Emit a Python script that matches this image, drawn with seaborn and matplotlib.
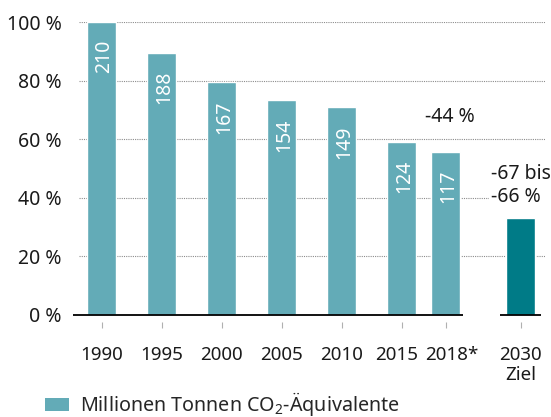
import numpy as np
import pandas as pd
import seaborn as sns
import matplotlib.pyplot as plt
import matplotlib.transforms as mtransforms
from matplotlib.patches import Patch

# ---- data ----
year_labels = ["1990", "1995", "2000", "2005", "2010", "2015", "2018*", "2030\nZiel"]
emissions = [210, 188, 167, 154, 149, 124, 117]      # Mio. t CO2-Äq.
target_pct = 33.0                                     # 2030 target (-67 bis -66 %)
target_text = "-67 bis\n-66 %"
y_ticks = [0, 20, 40, 60, 80, 100]
legend_label = "Millionen Tonnen CO$_2$-Äquivalente"

# ---- layout (positions, not data) ----
positions = [0, 1, 2, 3, 4, 5, 5.733, 6.983]
label_nudge_px = [0, 0, 0, 0, 0, -5, 6, 0]
kinds = ["Ist"] * len(emissions) + ["Ziel"]
pct = [v / emissions[0] * 100 for v in emissions] + [target_pct]

c_light = "#63abb7"
c_dark = "#007b87"

sns.set_theme(style="white")
plt.rcParams["font.family"] = ["Noto Sans", "DejaVu Sans"]
plt.rcParams["mathtext.default"] = "regular"
FS = 13.5

fig = plt.figure(figsize=(5.51, 4.17), dpi=100)
ax = fig.add_axes([73 / 551, 102 / 417, (545 - 73) / 551, 293 / 417])

df = pd.DataFrame({"pos": positions, "pct": pct, "kind": kinds})
sns.barplot(data=df, x="pos", y="pct", hue="kind",
            palette={"Ist": c_light, "Ziel": c_dark},
            native_scale=True, width=0.659, dodge=False, legend=False,
            saturation=1, ax=ax, zorder=2)
ax.set_xlabel("")
ax.set_ylabel("")

xl, xr = -0.475, 7.39
ax.set_xlim(xl, xr)
ax.set_ylim(0, 100)
for s in ax.spines.values():
    s.set_visible(False)

# grid lines
ax.hlines(y_ticks[1:], -0.375, xr, colors="#8c8c8c", linestyles=(0, (1, 1)),
          lw=0.8, zorder=0)
# baselines
ax.plot([xl, positions[6] + 0.292], [0, 0], color="black", lw=1.3,
        clip_on=False, zorder=3, solid_capstyle="butt")
ax.plot([positions[7] - 0.342, positions[7] + 0.342], [0, 0], color="black",
        lw=1.3, clip_on=False, zorder=3, solid_capstyle="butt")

# y ticks
ax.set_yticks(y_ticks)
ax.set_yticklabels([f"{t} %" for t in y_ticks], fontsize=FS + 0.5, color="#1a1a1a")
ax.tick_params(axis="y", length=0, pad=8)
# x ticks
ax.set_xticks(positions)
ax.set_xticklabels(year_labels, fontsize=FS, color="#1a1a1a", linespacing=1.15)
ax.tick_params(axis="x", length=0, pad=22)
for lab, dx in zip(ax.get_xticklabels(), label_nudge_px):
    if dx:
        lab.set_transform(lab.get_transform() +
                          mtransforms.ScaledTranslation(dx / 100, 0, fig.dpi_scale_trans))
ax.plot(positions, [-3.4] * len(positions), marker="|", ls="none", ms=5,
        mew=0.8, color="#b0b0b0", clip_on=False)

# bar value labels
for p, v, h in zip(positions, emissions, pct):
    ax.annotate(str(v), xy=(p, h), xytext=(0, -13), textcoords="offset points",
                rotation=90, rotation_mode="anchor", ha="right",
                va="center_baseline", color="white", fontsize=FS + 0.5, zorder=4)

# change annotations
ax.annotate(f"{round(pct[6] - 100)} %", xy=(positions[6], pct[6]),
            xytext=(3, 25), textcoords="offset points", ha="center",
            va="center", fontsize=FS + 0.5, color="#1a1a1a")
ax.annotate(target_text, xy=(positions[7], target_pct), xytext=(-21.5, 8),
            textcoords="offset points", ha="left", va="bottom", fontsize=FS + 0.5,
            color="#1a1a1a", linespacing=1.2,
            bbox=dict(facecolor="white", edgecolor="none", pad=1))

fig.legend(handles=[Patch(facecolor=c_light, edgecolor="none")],
           labels=[legend_label], loc="center left",
           bbox_to_anchor=(45 / 551, 1 - 404 / 417), frameon=False,
           fontsize=FS + 0.7, handlelength=1.22, handleheight=0.64,
           handletextpad=0.58, borderpad=0, borderaxespad=0)

fig.savefig("out.png", dpi=100)
